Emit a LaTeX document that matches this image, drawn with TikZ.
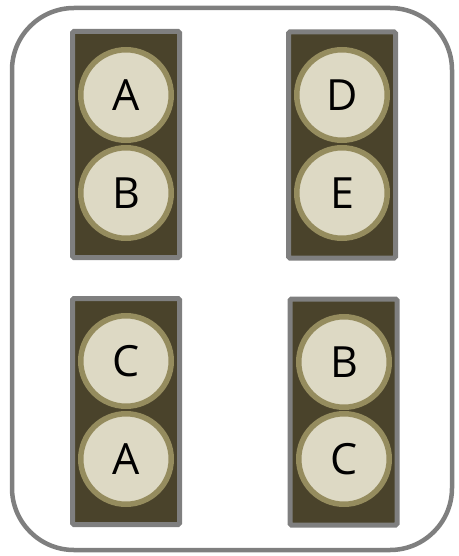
\documentclass[tikz,border=0pt]{standalone}
\usepackage{fontspec}
\setsansfont{Open Sans}
\usetikzlibrary{positioning}
\definecolor{edgegray}{HTML}{7F7F7F}
\definecolor{trayfill}{HTML}{4A432B}
\definecolor{ringcol}{HTML}{958C5E}
\definecolor{beadfill}{HTML}{DDD9C4}

\begin{document}
\begin{tikzpicture}[x=1pt, y=-1pt,
    outline/.style={draw=edgegray, line width=4.5pt, rounded corners=62pt},
    tray/.style={rectangle, draw=edgegray, line width=5pt, rounded corners=1.5pt, fill=trayfill, minimum width=107pt, minimum height=226pt, inner sep=0pt},
    bead/.style={circle, draw=ringcol, line width=5.5pt, fill=beadfill, minimum size=90.5pt, inner sep=0pt, font=\sffamily\fontsize{43}{43}\selectfont}
]
\useasboundingbox (0,0) rectangle (458,556);
\draw[outline] (12,8) rectangle (452,550);
\node[tray] (trayTL) at (126, 144.5) {};
\node[tray] (trayTR) at (342, 145) {};
\node[tray] (trayBL) at (126, 411.5) {};
\node[tray] (trayBR) at (343.5, 412) {};
\node[bead] (tlA) at (126, 95) {A};
\node[bead] (tlB) at (126, 193) {B};
\node[bead] (trD) at (342, 95) {D};
\node[bead] (trE) at (342, 193) {E};
\node[bead] (blC) at (126, 361) {C};
\node[bead] (blA) at (126, 459) {A};
\node[bead] (brB) at (344, 362) {B};
\node[bead] (brC) at (344, 459) {C};
\end{tikzpicture}
\end{document}
